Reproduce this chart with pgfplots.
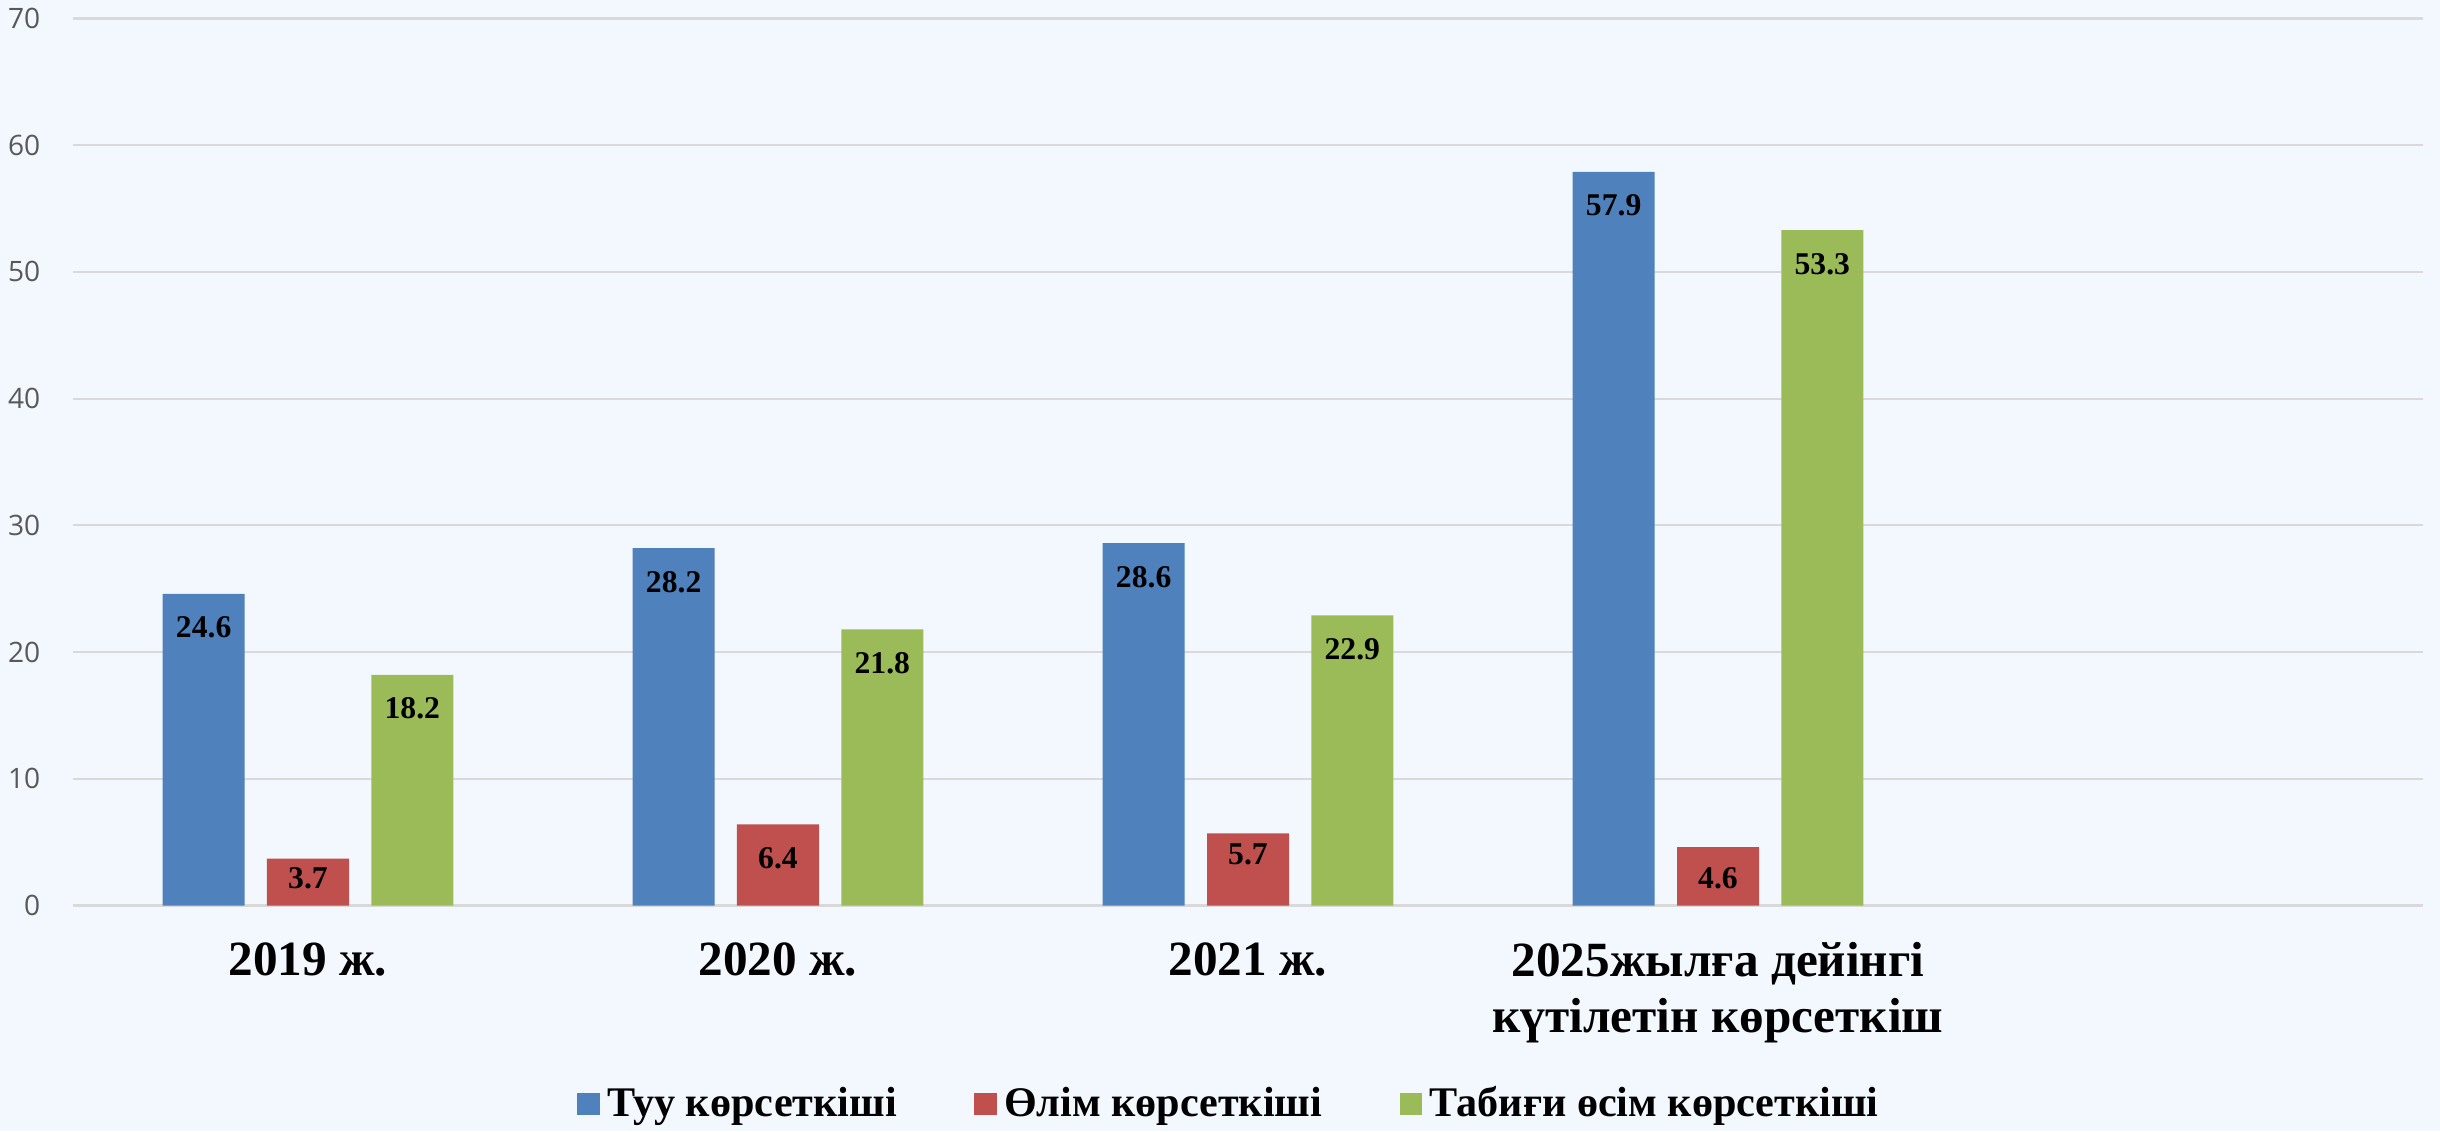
\documentclass[border=0pt]{standalone}
\usepackage{pgfplots}
\pgfplotsset{compat=1.18}
\usepackage{pgfplotstable}
\usepackage{fontspec}
\setmainfont{Liberation Serif}
\newfontfamily\tickfont{Open Sans}

\definecolor{bgblue}{RGB}{242,248,254}
\definecolor{gridgray}{RGB}{217,217,217}
\definecolor{tickgray}{RGB}{89,89,89}
\definecolor{sblue}{RGB}{79,129,189}
\definecolor{sred}{RGB}{192,80,77}
\definecolor{sgreen}{RGB}{155,187,89}

% x = category index, dy = label offset in pt
\pgfplotstableread{
x y dy
0 24.6 -3
1 28.2 -3
2 28.6 -3
3 57.9 -3
}\birth
\pgfplotstableread{
x y dy
0 3.7 1
1 6.4 -3
2 5.7 0.6
3 4.6 -2.2
}\death
\pgfplotstableread{
x y dy
0 18.2 -3
1 21.8 -3
2 22.9 -3
3 53.3 -3
}\growth

\begin{document}
\begin{tikzpicture}
\fill[bgblue] (-0.73cm,-2.255cm) rectangle (23.67cm,9.055cm);
\begin{axis}[
    at={(0,0)}, anchor=south west,
    scale only axis,
    width=23.5cm, height=8.87cm,
    xmin=-0.5, xmax=4.5,
    ymin=0, ymax=70,
    ytick={0,10,...,70},
    xtick={0,1,2,3},
    xticklabels={2019 ж., 2020 ж., 2021 ж., {2025жылға дейінгі\\күтілетін көрсеткіш}},
    axis line style={draw=none},
    major tick length=0pt,
    ymajorgrids,
    grid style={gridgray, line width=0.6pt},
    /pgf/number format/assume math mode=true,
    yticklabel style={font=\tickfont\fontsize{8}{8}\selectfont, text=tickgray, xshift=-5.8pt},
    xticklabel style={font=\bfseries\fontsize{14}{16}\selectfont, align=center, yshift=-7pt},
    ybar,
    bar width=0.1745,
    nodes near coords={\pgfmathprintnumber[fixed,zerofill,precision=1]{\pgfplotspointmeta}},
    visualization depends on={\thisrow{dy}\as\dy},
    nodes near coords style={anchor=north, font=\bfseries\fontsize{9}{10}\selectfont, text=black, yshift=\dy pt},
    legend columns=3,
    legend style={at={(0.493,-0.2238)}, anchor=center, draw=none, fill=none,
        font=\bfseries\fontsize{12}{14}\selectfont,
        /tikz/every even column/.append style={column sep=20pt}},
    legend image code/.code={\fill[#1] (0pt,-3.25pt) rectangle (6.5pt,3.25pt);},
]
\addplot[fill=sblue, draw=none, bar shift=-0.222] table[x=x, y=y] {\birth};
\addplot[fill=sred, draw=none, bar shift=0] table[x=x, y=y] {\death};
\addplot[fill=sgreen, draw=none, bar shift=0.222] table[x=x, y=y] {\growth};
\legend{Туу көрсеткіші, Өлім көрсеткіші, Табиғи өсім көрсеткіші}
\end{axis}
\pgfresetboundingbox
\path[use as bounding box] (-0.73cm,-2.255cm) rectangle (23.67cm,9.055cm);
\end{tikzpicture}
\end{document}
